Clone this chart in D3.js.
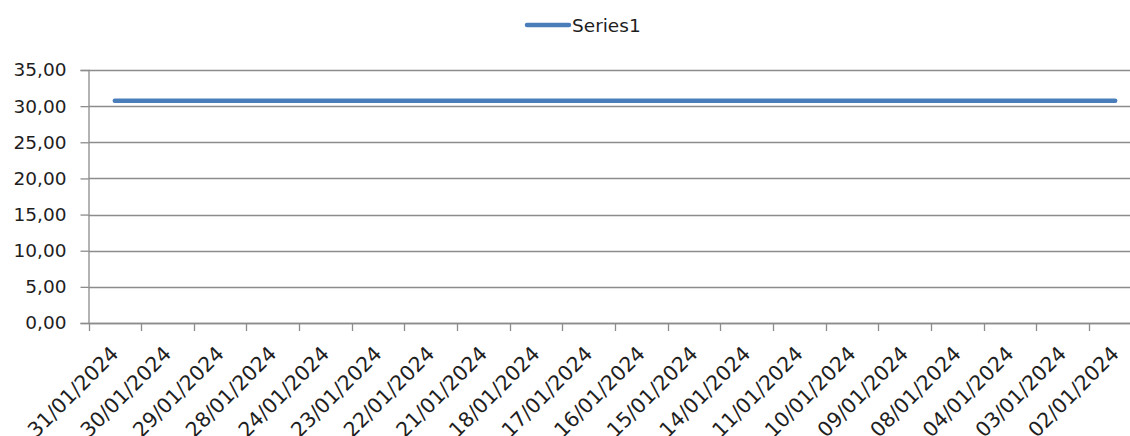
<!DOCTYPE html>
<html><head><meta charset="utf-8">
<script src="https://cdn.jsdelivr.net/npm/d3@7"></script>
<style>body{margin:0;background:#fff}svg{display:block}</style>
</head><body>
<script>
const categories = ["31/01/2024","30/01/2024","29/01/2024","28/01/2024","24/01/2024","23/01/2024","22/01/2024","21/01/2024","18/01/2024","17/01/2024","16/01/2024","15/01/2024","14/01/2024","11/01/2024","10/01/2024","09/01/2024","08/01/2024","04/01/2024","03/01/2024","02/01/2024"];
const series1 = [30.75,30.75,30.75,30.75,30.75,30.75,30.75,30.75,30.75,30.75,30.75,30.75,30.75,30.75,30.75,30.75,30.75,30.75,30.75,30.75];
const yTicks = [0,5,10,15,20,25,30,35];
const seriesName = "Series1";

(function(){
const W = 1130, H = 436;
const mLeft = 88.5, mTop = 70, mBottom = 323;
const bandW = 52.65;
const mRight = mLeft + bandW * categories.length;
const font = "'DejaVu Sans', sans-serif";
const fs = 18.5;
const txt = "#1e1e1e";
const grid = "#8c8c8c";

const svg = d3.select("body").append("svg").attr("width", W).attr("height", H);
const x = d3.scaleBand().domain(categories).range([mLeft, mRight]);
const y = d3.scaleLinear().domain([0, 35]).range([mBottom, mTop]);

// gridlines
svg.append("g").selectAll("line").data(yTicks).join("line")
  .attr("x1", mLeft).attr("x2", mRight)
  .attr("y1", d => Math.round(y(d)) + 0.5).attr("y2", d => Math.round(y(d)) + 0.5)
  .attr("stroke", grid).attr("stroke-width", 1.3);

// y axis
const fmt = d => d.toFixed(2).replace(".", ",");
const ya = svg.append("g").attr("transform", `translate(${mLeft},0)`)
  .call(d3.axisLeft(y).tickValues(yTicks).tickFormat(fmt).tickSize(8).tickPadding(14));
ya.select(".domain").attr("stroke", grid).attr("stroke-width", 1.3);
ya.selectAll(".tick line").attr("stroke", grid).attr("stroke-width", 1.3);
ya.selectAll(".tick text").attr("font-family", font).attr("font-size", fs).attr("fill", txt);

// x axis
const xa = svg.append("g").attr("transform", `translate(0,${mBottom})`)
  .call(d3.axisBottom(x).tickSize(0).tickFormat(d => d));
xa.select(".domain").attr("stroke", grid).attr("stroke-width", 1.3);
xa.selectAll(".tick line").remove();
xa.selectAll(".tick text")
  .attr("font-family", font).attr("font-size", 20.5).attr("fill", txt)
  .attr("text-anchor", "end")
  .attr("transform", "translate(5,32) rotate(-45)")
  .attr("dy", 0).attr("y", 0).attr("x", 0);
// boundary tick marks
const bounds = d3.range(categories.length + 1).map(i => mLeft + i * x.step());
svg.append("g").selectAll("line").data(bounds).join("line")
  .attr("x1", d => Math.round(d) + 0.5).attr("x2", d => Math.round(d) + 0.5)
  .attr("y1", mBottom).attr("y2", mBottom + 8).attr("stroke", grid).attr("stroke-width", 1.3);

// series line
const line = d3.line().x((d, i) => x(categories[i]) + x.bandwidth() / 2).y(d => y(d));
svg.append("path").datum(series1).attr("d", line)
  .attr("fill", "none").attr("stroke", "#4a7ebb").attr("stroke-width", 4.5).attr("stroke-linecap", "round");

// legend
const lg = svg.append("g");
lg.append("line").attr("x1", 527).attr("x2", 569).attr("y1", 25).attr("y2", 25)
  .attr("stroke", "#4a7ebb").attr("stroke-width", 4.5).attr("stroke-linecap", "round");
lg.append("text").attr("x", 572).attr("y", 25).attr("dy", "0.36em")
  .attr("font-family", font).attr("font-size", fs).attr("fill", txt).text(seriesName);
})();
</script>
</body></html>
